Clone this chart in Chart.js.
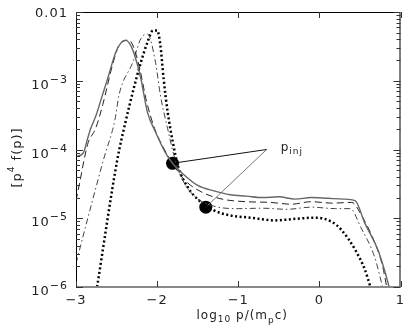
<!DOCTYPE html>
<html>
<head>
<meta charset="utf-8">
<script src="https://cdn.jsdelivr.net/npm/chart.js@4.4.1/dist/chart.umd.min.js"></script>
<style>
  html, body { margin: 0; padding: 0; background: #fff; }
  canvas { display: block; }
</style>
</head>
<body>
<canvas id="chart" width="407" height="327"></canvas>
<script>
// curves: x = log10 p/(m_p c), y = p^4 f(p)
const solidX = [-3.00, -2.91, -2.86, -2.82, -2.75, -2.69, -2.61, -2.51, -2.45, -2.39, -2.34, -2.29, -2.20, -2.12, -2.02, -1.90, -1.81, -1.68, -1.50, -1.30, -1.10, -0.90, -0.70, -0.50, -0.30, -0.10, 0.10, 0.30, 0.44, 0.56, 0.72, 0.80, 0.86];
const solidY = [7.9e-5, 8.9e-5, 1.4e-4, 2.0e-4, 3.2e-4, 5.4e-4, 1.07e-3, 2.6e-3, 3.5e-3, 3.9e-3, 3.5e-3, 2.6e-3, 1.07e-3, 3.5e-4, 1.8e-4, 9.1e-5, 6.3e-5, 4.4e-5, 3.0e-5, 2.5e-5, 2.2e-5, 2.1e-5, 2.0e-5, 2.05e-5, 1.9e-5, 2.0e-5, 1.95e-5, 1.9e-5, 1.8e-5, 8.5e-6, 3.5e-6, 1.8e-6, 1.0e-6];

const dashX = [-3.00, -2.95, -2.90, -2.85, -2.76, -2.67, -2.55, -2.47, -2.40, -2.35, -2.30, -2.22, -2.13, -2.03, -1.92, -1.80, -1.65, -1.45, -1.20, -0.90, -0.60, -0.35, -0.10, 0.15, 0.40, 0.52, 0.68, 0.78, 0.83];
const dashY = [1.8e-5, 3.5e-5, 7.1e-5, 1.26e-4, 2.0e-4, 4.5e-4, 1.7e-3, 3.3e-3, 3.8e-3, 3.9e-3, 3.3e-3, 1.6e-3, 5.0e-4, 2.0e-4, 1.05e-4, 6.0e-5, 3.5e-5, 2.4e-5, 1.9e-5, 1.74e-5, 1.7e-5, 1.6e-5, 1.74e-5, 1.66e-5, 1.7e-5, 1.1e-5, 4.5e-6, 2.0e-6, 1.0e-6];

const dashDotX = [-3.00, -2.85, -2.66, -2.52, -2.47, -2.30, -2.20, -2.12, -2.02, -1.96, -1.87, -1.78, -1.68, -1.52, -1.30, -1.00, -0.70, -0.40, -0.10, 0.20, 0.38, 0.51, 0.68, 0.78];
const dashDotY = [2.2e-6, 1.05e-5, 7.2e-5, 2.7e-4, 6.2e-4, 1.86e-3, 4.1e-3, 4.8e-3, 1.86e-3, 6.2e-4, 2.0e-4, 7.2e-5, 3.5e-5, 2.0e-5, 1.5e-5, 1.38e-5, 1.4e-5, 1.35e-5, 1.45e-5, 1.38e-5, 1.38e-5, 7.4e-6, 2.75e-6, 1.0e-6];

const dotX = [-2.74, -2.49, -2.39, -2.29, -2.20, -2.12, -2.05, -2.00, -1.96, -1.92, -1.87, -1.80, -1.74, -1.62, -1.48, -1.30, -1.10, -0.85, -0.55, -0.30, -0.05, 0.15, 0.27, 0.44, 0.56, 0.63];
const dotY = [1.0e-6, 7.2e-5, 2.5e-4, 7.6e-4, 1.86e-3, 3.6e-3, 5.4e-3, 5.4e-3, 3.3e-3, 1.07e-3, 3.5e-4, 1.17e-4, 5.6e-5, 2.8e-5, 1.8e-5, 1.3e-5, 1.1e-5, 1.02e-5, 9.3e-6, 9.8e-6, 1.02e-5, 8.9e-6, 6.8e-6, 3.5e-6, 1.8e-6, 1.0e-6];

// injection points and the p_inj label anchor
const injX = [-1.81, -1.40];
const injY = [6.3e-5, 1.45e-5];
const labelX = -0.65, labelY = 1.0e-4;

const xTicks = [-3, -2, -1, 0, 1];
const xTickLabels = ['\u22123', '\u22122', '\u22121', '0', '1'];
const yTicks = [1e-2, 1e-3, 1e-4, 1e-5, 1e-6];
const yTickBase = ['0.01', '10', '10', '10', '10'];
const yTickExp = ['', '\u22123', '\u22124', '\u22125', '\u22126'];
const yMinor = [2, 3, 4, 5, 6, 7, 8, 9];

const FONT = '"DejaVu Sans", sans-serif';
const pts = (xs, ys) => xs.map((x, i) => ({ x, y: ys[i] }));

// draw a run of text pieces [text, size, dy], aligned at x
function rich(ctx, parts, x, y, align) {
  let w = 0;
  parts.forEach(p => { ctx.font = p[1] + 'px ' + FONT; w += ctx.measureText(p[0]).width; });
  let cx = align === 'center' ? x - w / 2 : align === 'right' ? x - w : x;
  ctx.textAlign = 'left';
  ctx.textBaseline = 'alphabetic';
  parts.forEach(p => {
    ctx.font = p[1] + 'px ' + FONT;
    ctx.fillText(p[0], cx, y + (p[2] || 0));
    cx += ctx.measureText(p[0]).width;
  });
}

const framePlugin = {
  id: 'frame',
  afterDraw(chart) {
    const { ctx, chartArea: a, scales: { x, y } } = chart;
    ctx.save();
    ctx.lineWidth = 1;

    // frame: bottom edge is grey in the original
    ctx.strokeStyle = '#000';
    ctx.beginPath();
    ctx.moveTo(a.left + 0.5, a.bottom); ctx.lineTo(a.left + 0.5, a.top + 0.5);
    ctx.lineTo(a.right - 0.5, a.top + 0.5); ctx.lineTo(a.right - 0.5, a.bottom);
    ctx.stroke();
    ctx.strokeStyle = '#888';
    ctx.lineWidth = 2;
    ctx.beginPath(); ctx.moveTo(a.left, a.bottom); ctx.lineTo(a.right, a.bottom); ctx.stroke();

    // inward ticks
    ctx.lineWidth = 1;
    ctx.strokeStyle = '#333';
    ctx.beginPath();
    xTicks.forEach(v => {
      const px = Math.round(x.getPixelForValue(v)) + 0.5;
      ctx.moveTo(px, a.bottom); ctx.lineTo(px, a.bottom - 6);
      ctx.moveTo(px, a.top); ctx.lineTo(px, a.top + 6);
    });
    yTicks.forEach(v => {
      const py = Math.round(y.getPixelForValue(v)) + 0.5;
      ctx.moveTo(a.left, py); ctx.lineTo(a.left + 7, py);
      ctx.moveTo(a.right, py); ctx.lineTo(a.right - 7, py);
      if (v < 1e-2) yMinor.forEach(m => {
        const pm = Math.round(y.getPixelForValue(v * m)) + 0.5;
        ctx.moveTo(a.left, pm); ctx.lineTo(a.left + 4, pm);
        ctx.moveTo(a.right, pm); ctx.lineTo(a.right - 4, pm);
      });
    });
    ctx.stroke();

    // tick labels
    ctx.fillStyle = '#222';
    ctx.letterSpacing = '1px';
    xTicks.forEach((v, i) => rich(ctx, [[xTickLabels[i], 13]], x.getPixelForValue(v), a.bottom + 17, 'center'));
    yTicks.forEach((v, i) => {
      const py = y.getPixelForValue(v);
      if (yTickExp[i]) rich(ctx, [[yTickBase[i], 13, 0], [yTickExp[i], 11, -6]], a.left - 8, py + 8, 'right');
      else rich(ctx, [[yTickBase[i], 13]], a.left - 8, py + 5, 'right');
    });

    // axis titles
    rich(ctx, [['log', 12], ['10', 9, 3], [' p/(m', 12], ['p', 9, 4], ['c)', 12]], (a.left + a.right) / 2 + 4, a.bottom + 32, 'center');
    ctx.save();
    ctx.translate(21, (a.top + a.bottom) / 2 + 8);
    ctx.rotate(-Math.PI / 2);
    rich(ctx, [['[p', 13], ['4', 9, -7], [' f(p)]', 13]], 0, 0, 'center');
    ctx.restore();

    // p_inj label
    rich(ctx, [['p', 12], ['inj', 9, 3]], x.getPixelForValue(labelX) + 14, y.getPixelForValue(labelY) + 1, 'left');
    ctx.restore();
  }
};

new Chart(document.getElementById('chart'), {
  type: 'line',
  data: {
    datasets: [
      { data: pts(solidX, solidY), borderColor: '#666', borderWidth: 1.4 },
      { data: pts(dashX, dashY), borderColor: '#222', borderWidth: 1, borderDash: [7, 4] },
      { data: pts(dashDotX, dashDotY), borderColor: '#444', borderWidth: 1, borderDash: [6, 3, 1.5, 3] },
      { data: pts(dotX, dotY), borderColor: '#000', borderWidth: 2.5, borderDash: [2, 2.5] },
      { data: [{ x: labelX, y: labelY }, { x: injX[0], y: injY[0] }], borderColor: '#111', borderWidth: 1 },
      { data: [{ x: labelX, y: labelY }, { x: injX[1], y: injY[1] }], borderColor: '#777', borderWidth: 1 },
      { type: 'scatter', data: pts(injX, injY), pointRadius: 6.5, pointBackgroundColor: '#000', pointBorderWidth: 0, showLine: false }
    ].map(d => Object.assign({ pointRadius: 0, fill: false, cubicInterpolationMode: 'monotone' }, d))
  },
  options: {
    responsive: false,
    animation: false,
    layout: { padding: { left: 76, right: 4, top: 12, bottom: 40 } },
    plugins: { legend: { display: false }, tooltip: { enabled: false } },
    scales: {
      x: { type: 'linear', min: -3, max: 1, display: false },
      y: { type: 'logarithmic', min: 1e-6, max: 1e-2, display: false }
    }
  },
  plugins: [framePlugin]
});
</script>
</body>
</html>
